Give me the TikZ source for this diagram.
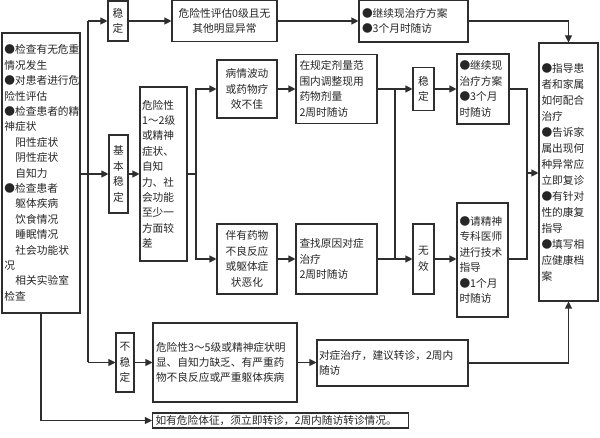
\documentclass[tikz,border=0pt]{standalone}
\usepackage{fontspec}
\setmainfont{Noto Sans CJK SC}
\usetikzlibrary{arrows.meta}
\definecolor{lncol}{HTML}{2E2E2E}
\definecolor{txcol}{HTML}{262626}
\tikzset{
  box/.style={draw=lncol, line width=1.1pt, fill=white, inner xsep=3pt, inner ysep=1pt,
    text=txcol, font=\fontsize{10.7}{15.4}\selectfont, align=center},
  lbox/.style={box, align=left},
  sz/.style 2 args={minimum width=#1pt, minimum height=#2pt},
  conn/.style={draw=lncol, line width=1.1pt},
  arr/.style={conn, -{Triangle[length=7pt,width=7pt]}},
}
\begin{document}
\begin{tikzpicture}[x=1pt,y=-1pt]
\useasboundingbox (0,0) rectangle (600,438);
% left box
\node[lbox, sz={78}{280}, text width=73pt, inner xsep=1.5pt] (L) at (41,173)
 {●检查有无危重\\情况发生\\●对患者进行危\\险性评估\\●检查患者的精\\神症状\\\hspace*{11pt}阳性症状\\\hspace*{11pt}阴性症状\\\hspace*{11pt}自知力\\●检查患者\\\hspace*{11pt}躯体疾病\\\hspace*{11pt}饮食情况\\\hspace*{11pt}睡眠情况\\\hspace*{11pt}社会功能状\\况\\\hspace*{11pt}相关实验室\\检查};
% status boxes
\node[box, sz={20}{40}, inner xsep=1pt] (S1) at (118,21) {稳\\定};
\node[box, sz={19}{78}, inner xsep=1pt] (JB) at (118.5,174) {基\\本\\稳\\定};
\node[box, sz={18}{59}, inner xsep=1pt] (BW) at (125,362.5) {不\\稳\\定};
% top row
\node[box, sz={105}{41}] (A0) at (224.5,21) {危险性评估0级且无\\其他明显异常};
\node[lbox, sz={109}{42}, text width=103pt] (TC) at (413.5,21) {●继续现治疗方案\\●3个月时随访};
% middle
\node[lbox, sz={47}{174}, text width=43pt, inner xsep=2pt] (R12) at (163.5,174)
 {危险性\\1～2级\\或精神\\症状、\\自知\\力、社\\会功能\\至少一\\方面较\\差};
\node[box, sz={60}{58}] (BQ) at (247,89) {病情波动\\或药物疗\\效不佳};
\node[lbox, sz={81}{69}, text width=74pt, inner xsep=3.5pt] (TZ) at (336.5,89) {在规定剂量范\\围内调整现用\\药物剂量\\2周时随访};
\node[box, sz={60}{70}] (BY) at (247,259) {伴有药物\\不良反应\\或躯体症\\状恶化};
\node[lbox, sz={81}{70}, text width=74pt, inner xsep=3.5pt] (CZ) at (336.5,259) {查找原因对症\\治疗\\2周时随访};
\node[box, sz={21}{43}, inner xsep=1pt] (S2) at (423.5,89) {稳\\定};
\node[box, sz={21}{70}, inner xsep=1pt] (WX) at (423.5,259) {无\\效};
\node[lbox, sz={52}{70}, text width=47pt, inner xsep=2.5pt] (JX) at (483,89) {●继续现\\治疗方案\\●3个月\\时随访};
\node[lbox, sz={51}{114}, text width=46pt, inner xsep=2.5pt] (QJ) at (482.5,260) {●请精神\\专科医师\\进行技术\\指导\\●1个月\\时随访};
\node[lbox, sz={59}{258}, text width=54pt, inner xsep=2.5pt, font=\fontsize{10.7}{16}\selectfont] (RB) at (568.5,172)
 {●指导患\\者和家属\\如何配合\\治疗\\●告诉家\\属出现何\\种异常应\\立即复诊\\●有针对\\性的康复\\指导\\●填写相\\应健康档\\案};
% bottom
\node[lbox, sz={144}{79}, text width=138pt] (D35) at (225,362.5) {危险性3～5级或精神症状明\\显、自知力缺乏、有严重药\\物不良反应或严重躯体疾病};
\node[lbox, sz={151}{46}, text width=147pt, inner xsep=2pt] (DZ) at (392.5,363) {对症治疗，建议转诊，2周内\\随访};
\node[lbox, sz={255}{15}, text width=250pt, inner ysep=0pt] (RY) at (280.5,420.5) {如有危险体征，须立即转诊，2周内随访转诊情况。};
% connectors
\coordinate (trunk) at (88,173);
\draw[arr] (L.east |- JB.west) -- (JB.west);
\draw[conn] (trunk |- S1.west) -- (trunk |- BW.west);
\draw[arr] (trunk |- S1.west) -- (S1.west);
\draw[arr] (trunk |- BW.west) -- (BW.west);
\draw[arr] (S1.east) -- (A0.west);
\draw[arr] (A0.east) -- (TC.west);
\draw[arr] (TC.east) -| (RB.north);
\draw[arr] (JB.east) -- (R12.west);
\coordinate (br1) at (196,174);
\draw[conn] (R12.east) -- (br1);
\draw[arr] (br1) |- (BQ.west);
\draw[arr] (br1) |- (BY.west);
\draw[arr] (BQ.east) -- (TZ.west);
\draw[arr] (BY.east) -- (CZ.west);
\coordinate (br2) at (395,174);
\draw[arr] (TZ.east) -- (S2.west);
\draw[arr] (CZ.east) -- (WX.west);
\draw[conn] (br2 |- S2.west) -- (br2 |- WX.west);
\draw[arr] (S2.east) -- (JX.west);
\draw[arr] (WX.east) -- (QJ.west |- WX.east);
\coordinate (br3) at (527,173);
\draw[conn] (JX.east) -| (br3);
\draw[conn] (QJ.east |- WX.east) -| (br3);
\draw[arr] (br3) -- (RB.west |- br3);
\draw[arr] (BW.east) -- (D35.west);
\draw[arr] (D35.east) -- (DZ.west |- D35.east);
\draw[arr] (DZ.east) -| (RB.south);
\draw[arr] (L.south) |- (RY.west);
\end{tikzpicture}
\end{document}
